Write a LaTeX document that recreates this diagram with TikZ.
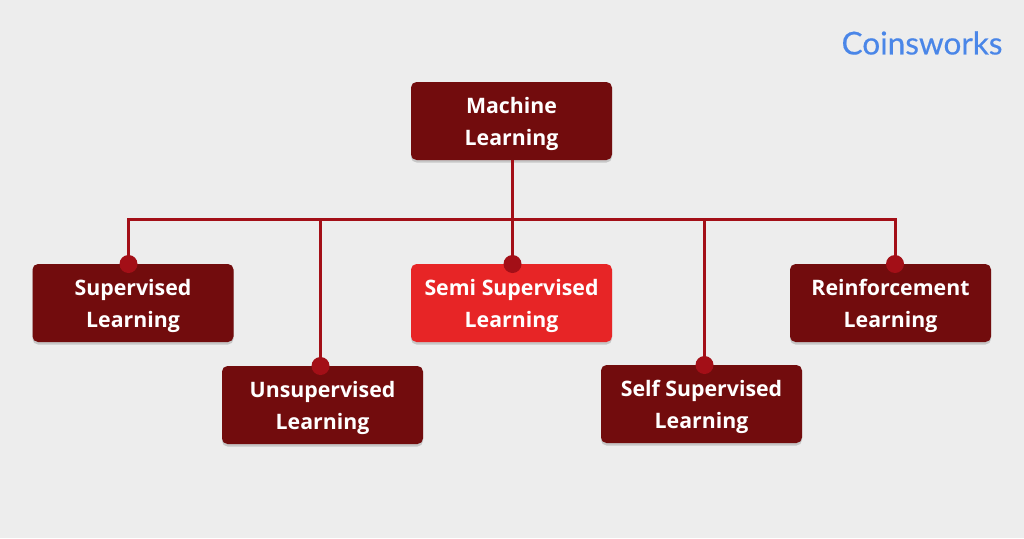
\documentclass[tikz,border=0pt]{standalone}
\usepackage{fontspec}
\setmainfont{Open Sans}
\newfontfamily\logofont[FakeBold=0.4]{Lato}
\usepackage{tikz}
\usetikzlibrary{shadows}
\definecolor{pagegray}{HTML}{EDEDED}
\definecolor{darkred}{HTML}{720C0D}
\definecolor{brightred}{HTML}{E72526}
\definecolor{linered}{HTML}{A30F17}
\definecolor{logoblue}{HTML}{4A86E8}
\newcommand{\lift}{\rule{0pt}{22pt}}
\tikzset{
  mlbox/.style={rectangle,rounded corners=5.5pt,fill=darkred,text=white,
    minimum width=201pt,minimum height=78pt,align=center,
    font=\fontsize{21.3}{32.5}\selectfont\bfseries,
    drop shadow={shadow xshift=0pt,shadow yshift=-2.5pt,opacity=0.35}},
  hotbox/.style={mlbox,fill=brightred},
  dotnode/.style={circle,fill=linered,inner sep=0pt,minimum size=18pt},
  wire/.style={draw=linered,line width=3pt}
}
\begin{document}
\begin{tikzpicture}[x=1pt,y=-1pt]
\fill[pagegray] (0,0) rectangle (1024,538);
\useasboundingbox (0,0) rectangle (1024,538);
\node[mlbox] (machine) at (511.5,121) {\lift Machine\\Learning};
\node[mlbox] (sup) at (133,303) {\lift Supervised\\Learning};
\node[mlbox] (unsup) at (322.5,405) {\lift Unsupervised\\Learning};
\node[hotbox] (semi) at (511.5,303) {\lift Semi Supervised\\Learning};
\node[mlbox] (self) at (701.5,404) {\lift Self Supervised\\Learning};
\node[mlbox] (rein) at (890.5,303) {\lift Reinforcement\\Learning};
\node[dotnode] (dotsup) at (128.5,264) {};
\node[dotnode] (dotunsup) at (320.5,366) {};
\node[dotnode] (dotsemi) at (512.5,264) {};
\node[dotnode] (dotself) at (704.5,365) {};
\node[dotnode] (dotrein) at (895,264) {};
\coordinate (busleft) at (128.5,219);
\coordinate (busright) at (895,219);
\coordinate (busunsup) at (320.5,219);
\coordinate (busself) at (704.5,219);
\draw[wire] (dotsup.center) -- (busleft) -- (busright) -- (dotrein.center);
\draw[wire] (busunsup) -- (dotunsup.center);
\draw[wire] (busself) -- (dotself.center);
\draw[wire] (machine.south -| dotsemi) -- (dotsemi.center);
\node[text=logoblue,font=\logofont\fontsize{31.5}{33}\selectfont] (logo) at (922,43) {Coinsworks};
\end{tikzpicture}
\end{document}
